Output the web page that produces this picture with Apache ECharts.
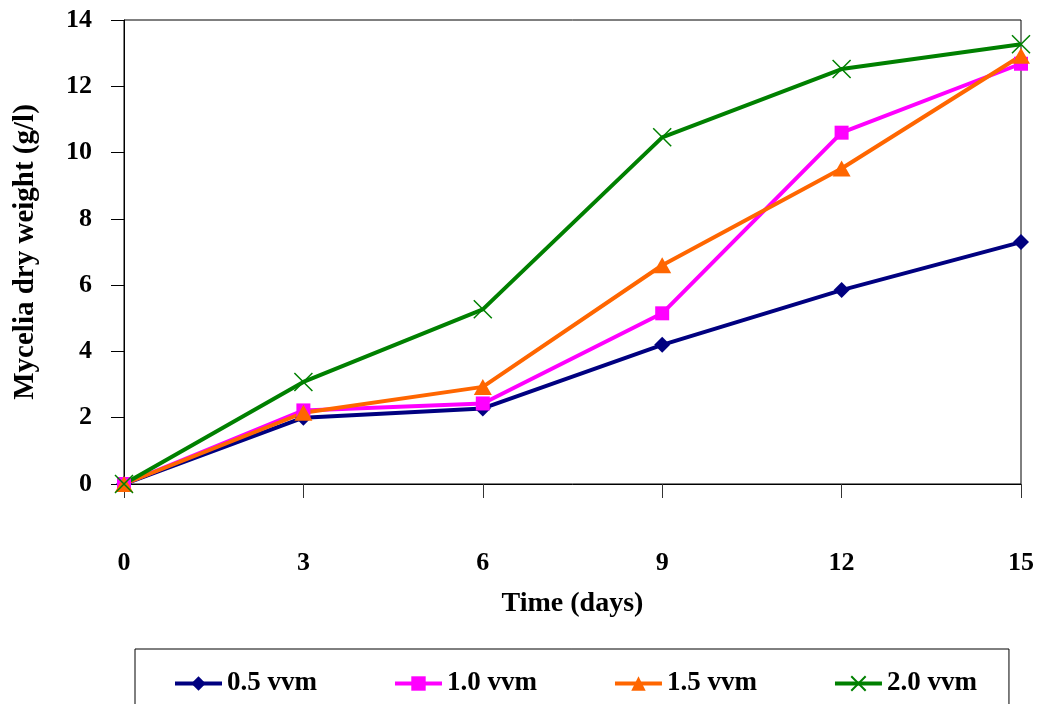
<!DOCTYPE html>
<html>
<head>
<meta charset="utf-8">
<script src="https://cdn.jsdelivr.net/npm/echarts@6/dist/echarts.min.js"></script>
<style>
  html, body { margin: 0; padding: 0; background: #ffffff; }
  #chart { width: 1044px; height: 704px; }
</style>
</head>
<body>
<div id="chart"></div>
<script>
// Sampling days
const days = [0, 3, 6, 9, 12, 15];

// Mycelia dry weight (g/l) at each aeration rate
const vvm05 = [0, 2.0, 2.28, 4.2, 5.85, 7.3];
const vvm10 = [0, 2.22, 2.43, 5.15, 10.6, 12.68];
const vvm15 = [0, 2.15, 2.93, 6.6, 9.52, 12.92];
const vvm20 = [0, 3.08, 5.27, 10.46, 12.52, 13.27];

const seriesNames = ['0.5 vvm', '1.0 vvm', '1.5 vvm', '2.0 vvm'];
const seriesColors = ['#000080', '#FF00FF', '#FF6600', '#008000'];

const FONT = 'Liberation Serif';

function pairs(values) {
  return days.map((d, i) => [d, values[i]]);
}

// thin "x" marker drawn with strokes
const crossPath = 'path://M0,0L20,20M20,0L0,20';

const chart = echarts.init(document.getElementById('chart'), null, { renderer: 'canvas' });

const option = {
  backgroundColor: '#ffffff',
  animation: false,
  textStyle: { fontFamily: FONT, fontWeight: 'bold', color: '#000' },
  grid: {
    left: 124, right: 23, top: 20, bottom: 220,
    show: true, borderColor: '#000', borderWidth: 1, backgroundColor: 'transparent'
  },
  legend: {
    data: seriesNames,
    left: 135,
    top: 649,
    padding: [21, 32, 30, 38],
    itemGap: 76,
    itemWidth: 47,
    itemHeight: 18,
    lineStyle: { width: 4 },
    borderColor: '#000',
    borderWidth: 1,
    textStyle: { fontFamily: FONT, fontWeight: 'bold', fontSize: 27, color: '#000', padding: [6, 0, 0, 0] }
  },
  xAxis: {
    type: 'value',
    min: 0, max: 15, interval: 3,
    name: 'Time (days)',
    nameLocation: 'middle',
    nameGap: 106,
    nameTextStyle: { fontFamily: FONT, fontWeight: 'bold', fontSize: 28, color: '#000' },
    axisLine: { lineStyle: { color: '#000', width: 1 } },
    axisTick: { show: true, length: 14, lineStyle: { color: '#333' } },
    axisLabel: { margin: 66, fontFamily: FONT, fontWeight: 'bold', fontSize: 26, color: '#000' },
    splitLine: { show: false }
  },
  yAxis: {
    type: 'value',
    min: 0, max: 14, interval: 2,
    name: 'Mycelia dry weight (g/l)',
    nameLocation: 'middle',
    nameGap: 84,
    nameTextStyle: { fontFamily: FONT, fontWeight: 'bold', fontSize: 29, color: '#000' },
    axisLine: { show: true, lineStyle: { color: '#000', width: 1 } },
    axisTick: { show: true, length: 13, lineStyle: { color: '#000' } },
    axisLabel: { margin: 32, fontFamily: FONT, fontWeight: 'bold', fontSize: 26, color: '#000' },
    splitLine: { show: false }
  },
  series: [
    {
      name: seriesNames[0], type: 'line', data: pairs(vvm05),
      symbol: 'diamond', symbolSize: [16, 16],
      lineStyle: { color: seriesColors[0], width: 4 },
      itemStyle: { color: seriesColors[0] }
    },
    {
      name: seriesNames[1], type: 'line', data: pairs(vvm10),
      symbol: 'rect', symbolSize: 14,
      lineStyle: { color: seriesColors[1], width: 4 },
      itemStyle: { color: seriesColors[1] }
    },
    {
      name: seriesNames[2], type: 'line', data: pairs(vvm15),
      symbol: 'triangle', symbolSize: [18, 16],
      lineStyle: { color: seriesColors[2], width: 4 },
      itemStyle: { color: seriesColors[2] }
    },
    {
      name: seriesNames[3], type: 'line', data: pairs(vvm20),
      symbol: crossPath, symbolSize: 18,
      lineStyle: { color: seriesColors[3], width: 4 },
      itemStyle: { color: seriesColors[3], borderColor: seriesColors[3], borderWidth: 1.5 }
    }
  ]
};

chart.setOption(option);
</script>
</body>
</html>
